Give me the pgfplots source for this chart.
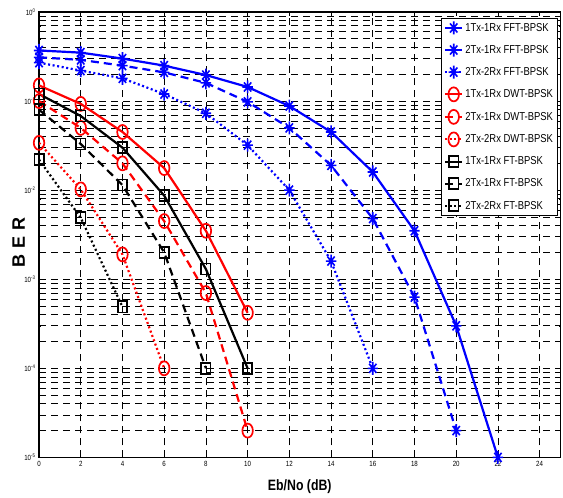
\documentclass[border=0pt]{standalone}
\usepackage{pgfplots}
\pgfplotsset{compat=1.18}
\usepackage{fontspec}
\setmainfont{Liberation Sans}
\newfontfamily\narrow{Liberation Sans}[FakeStretch=0.82]
\pgfdeclareplotmark{mstar}{%
  \pgfpathmoveto{\pgfqpoint{0pt}{\pgfplotmarksize}}\pgfpathlineto{\pgfqpoint{0pt}{-\pgfplotmarksize}}%
  \pgfpathmoveto{\pgfqpoint{\pgfplotmarksize}{0pt}}\pgfpathlineto{\pgfqpoint{-\pgfplotmarksize}{0pt}}%
  \pgfpathmoveto{\pgfqpoint{0.7\pgfplotmarksize}{0.7\pgfplotmarksize}}\pgfpathlineto{\pgfqpoint{-0.7\pgfplotmarksize}{-0.7\pgfplotmarksize}}%
  \pgfpathmoveto{\pgfqpoint{-0.7\pgfplotmarksize}{0.7\pgfplotmarksize}}\pgfpathlineto{\pgfqpoint{0.7\pgfplotmarksize}{-0.7\pgfplotmarksize}}%
  \pgfusepathqstroke}
\begin{document}
\begin{tikzpicture}
\begin{axis}[
  name=ax,
  scale only axis, width=521pt, height=445pt,
  xmin=0, xmax=25, ymin=1e-5, ymax=1, ymode=log,
  xtick={0,2,...,24},
  ytick={1e-5,1e-4,1e-3,1e-2,1e-1,1},
  yticklabels={10\textsuperscript{-5},10\textsuperscript{-4},10\textsuperscript{-3},10\textsuperscript{-2},10\textsuperscript{-1},10\textsuperscript{0}},
  xticklabel style={font=\narrow\fontsize{7.5}{8}\selectfont},
  yticklabel style={font=\narrow\fontsize{7.5}{8}\selectfont},
  /pgf/number format/assume math mode=true,
  grid=both,
  major grid style={black, line width=0.7pt, dash pattern=on 7pt off 5pt},
  minor grid style={black, line width=0.7pt, dash pattern=on 7pt off 5pt},
  axis line style={line width=1.2pt},
  tick style={black, line width=0.6pt},
  major tick length=4pt, minor tick length=2pt,
  xlabel={\narrow\bfseries\fontsize{15}{16}\selectfont Eb/No (dB)},
  ylabel={\bfseries\fontsize{18}{19}\selectfont B\hspace{6pt}E\hspace{6pt}R},
  xlabel style={yshift=-6pt},
  every axis y label/.style={at={(axis description cs:-0.039,0.483)}, rotate=90, anchor=center},
  legend style={at={(0.995,0.986)}, anchor=north east, draw=black, line width=0.9pt,
    font=\narrow\fontsize{11.5}{12}\selectfont, row sep=8.5pt, inner sep=2.5pt,
    cells={anchor=west}},
  legend cell align=left,
]
\pgfplotsset{
  b/.style={blue, line width=2.2pt, mark=mstar, mark size=6.5pt, mark options={solid, line width=1.6pt, xscale=0.8}},
  r/.style={red, line width=2.2pt, mark=o, mark size=7pt, mark options={solid, line width=1.7pt, xscale=0.75}},
  k/.style={black, line width=2.2pt, mark=square, mark size=5.5pt, mark options={solid, line width=1.7pt, xscale=0.85}},
  dsh/.style={dash pattern=on 8pt off 5pt},
  dt/.style={dash pattern=on 2pt off 2.6pt},
}
\addplot[b] coordinates {(0,0.37)(2,0.35)(4,0.30)(6,0.25)(8,0.196)(10,0.144)(12,0.088)(14,0.045)(16,0.016)(18,0.0035)(20,3e-4)(22,1e-5)};
\addlegendentry{1Tx-1Rx FFT-BPSK}
\addplot[b, dsh] coordinates {(0,0.31)(2,0.29)(4,0.25)(6,0.21)(8,0.16)(10,0.098)(12,0.05)(14,0.019)(16,0.0048)(18,6.3e-4)(20,2e-5)};
\addlegendentry{2Tx-1Rx FFT-BPSK}
\addplot[b, dt] coordinates {(0,0.27)(2,0.22)(4,0.18)(6,0.12)(8,0.073)(10,0.032)(12,0.01)(14,1.6e-3)(16,1e-4)};
\addlegendentry{2Tx-2Rx FFT-BPSK}
\addplot[r] coordinates {(0,0.15)(2,0.093)(4,0.045)(6,0.0177)(8,0.0035)(10,4.2e-4)};
\addlegendentry{1Tx-1Rx DWT-BPSK}
\addplot[r, dsh] coordinates {(0,0.1)(2,0.05)(4,0.02)(6,0.0045)(8,7e-4)(10,2e-5)};
\addlegendentry{2Tx-1Rx DWT-BPSK}
\addplot[r, dt] coordinates {(0,0.034)(2,0.0102)(4,1.9e-3)(6,1e-4)};
\addlegendentry{2Tx-2Rx DWT-BPSK}
\addplot[k] coordinates {(0,0.12)(2,0.068)(4,0.03)(6,0.0087)(8,1.3e-3)(10,1e-4)};
\addlegendentry{1Tx-1Rx FT-BPSK}
\addplot[k, dsh] coordinates {(0,0.08)(2,0.033)(4,0.0114)(6,2e-3)(8,1e-4)};
\addlegendentry{2Tx-1Rx FT-BPSK}
\addplot[k, dt] coordinates {(0,0.022)(2,0.0049)(4,4.9e-4)};
\addlegendentry{2Tx-2Rx FT-BPSK}
\end{axis}
\pgfresetboundingbox
\path[use as bounding box] ([xshift=-39pt,yshift=-40pt]ax.south west) rectangle ([xshift=2.5pt,yshift=12pt]ax.north east);
\end{tikzpicture}
\end{document}
